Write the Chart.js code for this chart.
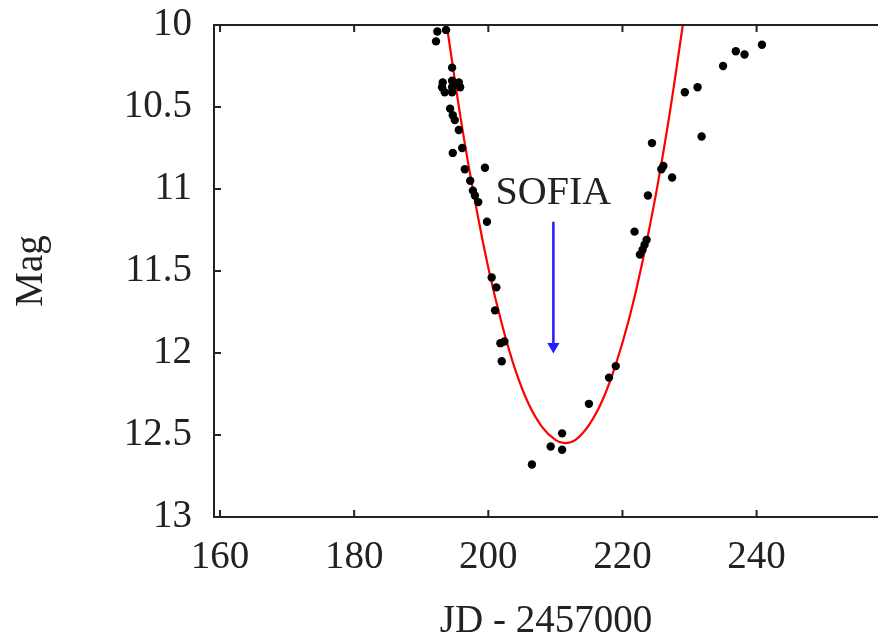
<!DOCTYPE html>
<html><head><meta charset="utf-8">
<script src="https://cdn.jsdelivr.net/npm/chart.js@4.4.1/dist/chart.umd.min.js"></script>
<style>html,body{margin:0;padding:0;background:#fff;overflow:hidden}#wrap{width:878px;height:642px}</style>
</head><body><div id="wrap"><canvas id="c" width="878" height="642"></canvas></div>
<script>
// Observed photometry (JD - 2457000, magnitude)
const obsJD  = [192.2,192.4,193.7,194.6,
  193.2,194.6,195.6,193.1,194.6,195.8,193.5,194.6,
  194.3,194.7,195.0,195.6,196.1,194.7,196.5,199.5,
  197.3,197.7,198.0,198.5,199.8,
  200.5,201.2,201.0,201.8,202.4,202.0,
  206.5,209.3,211.0,211.0,215.0,218.0,219.0,
  221.8,222.6,223.0,223.3,223.6,223.8,224.4,225.8,226.1,227.4,
  229.3,231.2,231.8,235.0,236.9,238.2,240.8];
const obsMag = [10.10,10.04,10.03,10.26,
  10.35,10.34,10.35,10.38,10.38,10.38,10.41,10.41,
  10.51,10.55,10.58,10.64,10.75,10.78,10.88,10.87,
  10.95,11.01,11.04,11.08,11.20,
  11.54,11.60,11.74,11.94,11.93,12.05,
  12.68,12.57,12.49,12.59,12.31,12.15,12.08,
  11.26,11.40,11.37,11.34,11.31,11.04,10.72,10.88,10.86,10.93,
  10.41,10.38,10.68,10.25,10.16,10.18,10.12];
// Fitted curve
const fitJD  = [193.8,196,198,200,202,204,206,208,210,211.4,213,215,217,219,221,223,225,227,229];
const fitMag = [10.00,10.60,11.07,11.48,11.82,12.10,12.31,12.45,12.53,12.55,12.53,12.44,12.29,12.07,11.79,11.44,11.03,10.55,10.00];
// SOFIA marker
const arrowJD  = [209.7,209.7];
const arrowMag = [11.20,11.96];
const noteText = 'SOFIA';
const noteJD = 209.7;
const noteMag = 11.03;
// Axes
const xTicks = [160,180,200,220,240];
const yTicks = [10,10.5,11,11.5,12,12.5,13];
const xTitle = 'JD - 2457000';
const yTitle = 'Mag';

const FONT = '"Liberation Serif", "Times New Roman", serif';
const INK = '#222';

const toXY = (xs, ys) => xs.map((x,i)=>({x, y: ys[i]}));

const framePlugin = {
  id: 'frame',
  afterDatasetsDraw(chart){
    const {ctx, scales:{x, y}} = chart;
    ctx.save();
    ctx.font = '40px ' + FONT;
    ctx.fillStyle = INK;
    ctx.textAlign = 'center';
    ctx.textBaseline = 'middle';
    ctx.fillText(noteText, x.getPixelForValue(noteJD), y.getPixelForValue(noteMag));
    ctx.restore();
  },
  afterDraw(chart){
    const {ctx, chartArea:a, scales:{x, y}} = chart;
    ctx.save();
    ctx.strokeStyle = INK;
    ctx.lineWidth = 2;
    ctx.beginPath();
    ctx.moveTo(a.left, a.top); ctx.lineTo(a.right, a.top);
    xTicks.forEach(v=>{
      const px = x.getPixelForValue(v);
      ctx.moveTo(px, a.bottom); ctx.lineTo(px, a.bottom-7);
      ctx.moveTo(px, a.top); ctx.lineTo(px, a.top+7);
    });
    yTicks.forEach(v=>{
      const py = y.getPixelForValue(v);
      ctx.moveTo(a.left, py); ctx.lineTo(a.left+7, py);
    });
    ctx.stroke();
    ctx.restore();
  }
};

new Chart(document.getElementById('c'), {
  type: 'scatter',
  data: {
    datasets: [
      {
        label: 'Observed',
        data: toXY(obsJD, obsMag),
        backgroundColor: '#000',
        borderColor: '#000',
        pointRadius: 4.2,
        pointBorderWidth: 0,
        order: 0
      },
      {
        type: 'line',
        label: 'Fit',
        data: toXY(fitJD, fitMag),
        borderColor: '#ff0000',
        borderWidth: 2.2,
        pointRadius: 0,
        fill: false,
        tension: 0.4,
        order: 1
      },
      {
        type: 'line',
        label: 'SOFIA',
        data: toXY(arrowJD, arrowMag),
        borderColor: '#1f1fff',
        backgroundColor: '#1f1fff',
        borderWidth: 2.5,
        pointStyle: 'triangle',
        pointRadius: [0, 7],
        pointRotation: [0, 180],
        pointBorderWidth: 0,
        fill: false,
        order: 2
      }
    ]
  },
  options: {
    responsive: false,
    animation: false,
    devicePixelRatio: 1,
    layout: { autoPadding: false, padding: { top: 25, right: 0, left: 0, bottom: 0 } },
    plugins: { legend: { display: false }, tooltip: { enabled: false } },
    scales: {
      x: {
        type: 'linear',
        min: 159.1, max: 258.1,
        afterBuildTicks: s => { s.ticks = xTicks.map(v=>({value:v})); },
        afterFit: s => { s.height = 125; s.paddingRight = 0; s.paddingLeft = 0; },
        grid: { display: false, drawTicks: false },
        border: { display: true, color: INK, width: 2 },
        ticks: { color: INK, font: { family: FONT, size: 39 }, padding: 17, maxRotation: 0, autoSkip: false, callback: v => String(v) },
        title: { display: true, text: xTitle, color: INK, font: { family: FONT, size: 39 }, padding: { top: 15, bottom: -3 } }
      },
      y: {
        type: 'linear',
        reverse: true,
        min: 10, max: 13,
        afterBuildTicks: s => { s.ticks = yTicks.map(v=>({value:v})); },
        afterFit: s => { s.width = 214; s.paddingTop = 0; s.paddingBottom = 0; },
        grid: { display: false, drawTicks: false },
        border: { display: true, color: INK, width: 2 },
        ticks: { color: INK, font: { family: FONT, size: 39 }, padding: 22, autoSkip: false, callback: v => String(v) },
        title: { display: true, text: yTitle, color: INK, font: { family: FONT, size: 39 }, padding: { top: 8, bottom: 0 } }
      }
    }
  },
  plugins: [framePlugin]
});
</script>
</body></html>
